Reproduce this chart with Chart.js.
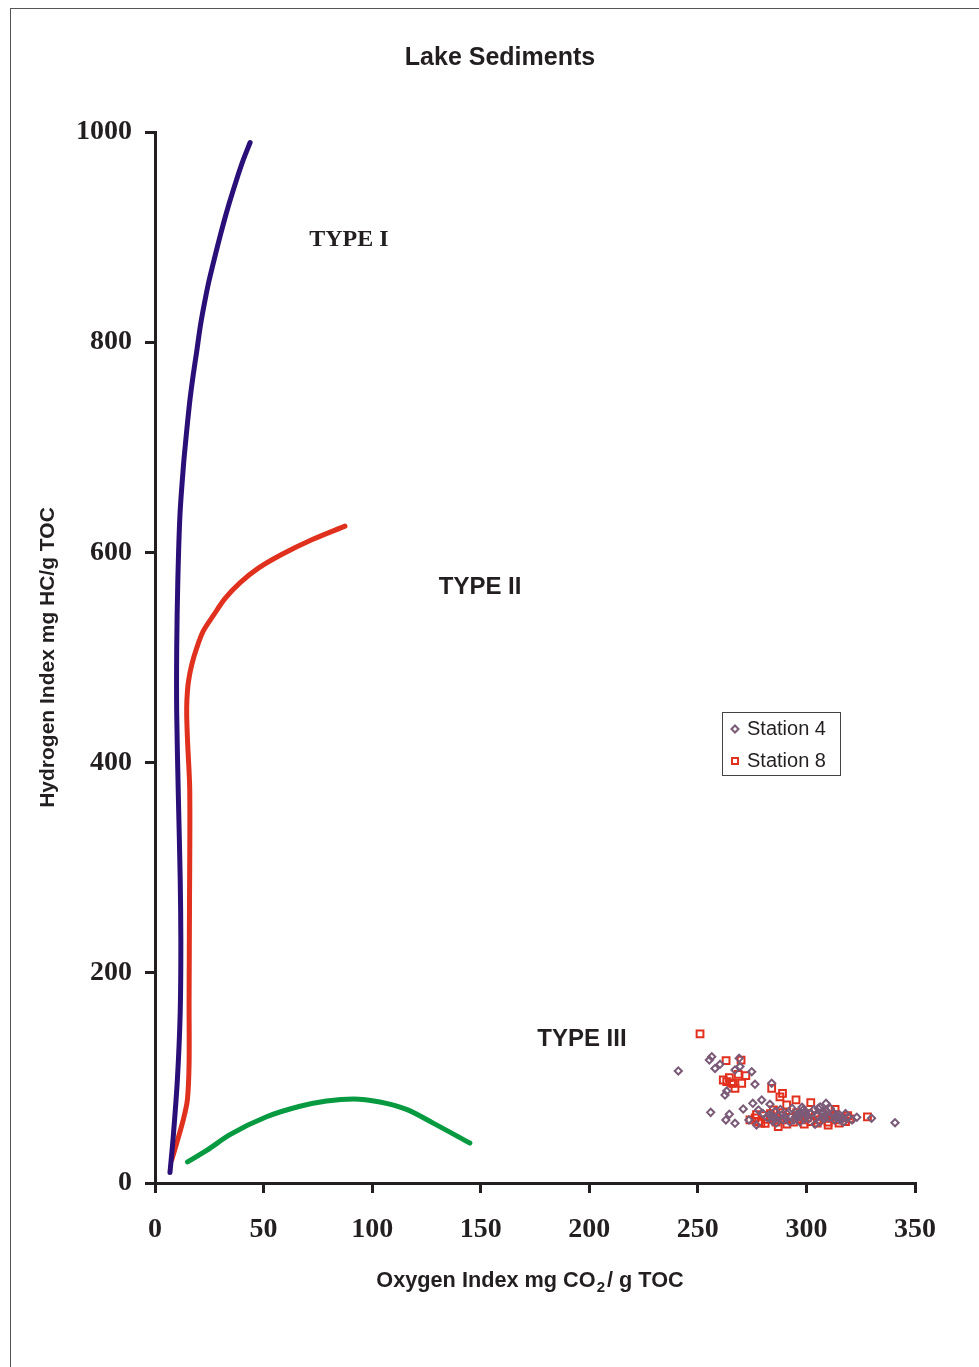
<!DOCTYPE html>
<html>
<head>
<meta charset="utf-8">
<script src="https://cdn.jsdelivr.net/npm/chart.js@4.4.1/dist/chart.umd.min.js"></script>
<style>
  html, body { margin: 0; padding: 0; background: #fff; }
  #wrap { position: relative; width: 979px; height: 1367px; }
  #frame { position: absolute; left: 10px; top: 8px; right: -5px; bottom: -5px; border-top: 1px solid #555; border-left: 1px solid #555; pointer-events: none; }
</style>
</head>
<body>
<div id="wrap">
  <canvas id="myChart" width="979" height="1367"></canvas>
  <div id="frame"></div>
</div>
<script>
const TITLE = "Lake Sediments";
const Y_TITLE = "Hydrogen Index mg HC/g TOC";
const X_TITLE = ["Oxygen Index mg CO", "2", "/ g TOC"];

const X_TICKS = [0, 50, 100, 150, 200, 250, 300, 350];
const Y_TICKS = [0, 200, 400, 600, 800, 1000];

// evolution curves (OI, HI)
const typeIx = [6.9, 8.4, 10.3, 11.6, 11.9, 11.6, 10.8, 10.0, 10.0, 10.5, 11.5, 13.2, 14.1, 15.0, 16.2, 17.6, 19.2, 20.7,
  22.3, 24.4, 26.7, 29.0, 31.4, 34.0, 37.3, 40.4, 43.8];
const typeIy = [10, 44, 98, 162, 230, 290, 364, 447, 509, 572, 636, 685, 705, 724, 747, 769, 791, 813,
  832, 854, 874, 893, 912, 931, 953, 972, 990];

const typeIIx = [7.7, 10.0, 13.0, 14.9, 15.7, 15.7, 15.9, 16.0, 15.0, 14.6, 14.7, 15.4, 16.9, 19.2, 22.2, 26.9, 32.2, 39.1,
  47.6, 58.3, 72.2, 87.5];
const typeIIy = [22, 38, 60, 79, 114, 174, 269, 374, 420, 445, 460, 477, 493, 509, 525, 540, 556, 571,
  585, 598, 612, 625];

const typeIIIx = [15.0, 23.8, 34.5, 51.4, 66.8, 79.0, 91.3, 103.6, 115.8, 128.1, 145.0];
const typeIIIy = [20, 31, 46, 63, 73, 78, 80, 77, 70, 57, 38];

// samples
const station4x = [241, 256.4, 255.3, 257.9, 260.2, 269, 267.1, 269.4, 274.8, 276.3, 284, 263.3, 262.5, 255.9, 264.5, 262.9,
  267.1, 270.9, 275.3, 279.4, 283.2, 277.9, 273.5, 340.8, 323.2, 330, 312.4, 309, 277,
  280, 282, 285.5, 287, 289.3, 291, 293.4, 295, 297, 299.2, 301, 303.5, 305, 306.2, 308, 310.4, 311, 313, 315.2, 317, 319.3, 321,
  286, 292.4, 298, 304, 300.5, 296, 288, 284.3, 302, 307.4, 309, 314, 316.3, 318, 283, 290, 294.2, 299,
  284.6, 285.8, 283.9, 295.7, 296.8, 298.4, 299.5, 306.3, 305.5, 307.6, 308.5, 314, 313.2, 315.5, 316.4];
const station4y = [106.6, 120.2, 117, 109, 112.9, 118.6, 107.5, 110.8, 105.9, 93.9, 94.9, 87.5, 83.7, 67.2, 65.4, 60,
  56.8, 70.4, 75.8, 79, 74.9, 69.5, 60, 57.4, 62.5, 61.6, 66.9, 75.8, 55.2,
  66, 62, 68, 64, 60, 66, 71, 63, 58, 67, 61, 70, 64, 58, 67, 62, 71, 60, 65, 58, 63, 60,
  57, 58, 72, 56, 64, 66, 70, 59, 66, 62, 69, 63, 61, 66, 65, 63, 60, 61,
  62.8, 61.5, 64, 64.7, 63.5, 69.5, 68.2, 72.3, 71, 62.8, 61.6, 64.7, 63.4, 60, 61.2];

const station8x = [251, 263, 269.9, 261.7, 264.5, 268.6, 272.1, 266.3, 270.2, 267.1, 263.3, 265.5, 284, 289, 287.8, 295.2, 302,
  290.9, 284.8, 328.1, 287, 281, 310, 313.2,
  274, 276.4, 278, 280.3, 282, 284.5, 286, 288.2, 290, 292.6, 294, 296.3, 298, 300.4, 302, 304.2, 306, 308.5, 310, 312.3, 314, 316.5,
  318, 320, 277, 283.4, 289, 295.5, 301, 307.2, 313, 319, 279, 291, 299, 305, 315];
const station8y = [141.8, 116.4, 117, 98, 100.2, 103.4, 102.1, 94.9, 94.9, 90.1, 96.4, 95, 90.1, 85.3, 82, 79, 76.4,
  74.2, 69.5, 63, 53.6, 56.8, 55, 70,
  60, 62, 58.5, 64, 60.5, 62, 58, 64, 60, 62.5, 58, 64, 60, 62, 58.5, 64, 60, 62, 58, 64, 60, 62,
  58.5, 61, 65, 66, 67, 67, 66, 66, 65, 64, 57, 56, 56, 57, 57];

const TYPE_LABELS = [
  { text: "TYPE I", x: 89.3, y: 897, serif: true },
  { text: "TYPE II", x: 149.7, y: 567, serif: false },
  { text: "TYPE III", x: 196.6, y: 137, serif: false }
];

const LEGEND = [
  { text: "Station 4", style: "rectRot", color: "#7b5a78" },
  { text: "Station 8", style: "rect", color: "#e2301f" }
];

const INK = "#231f20";
const SANS = '"Liberation Sans", Arial, sans-serif';
const SERIF = '"Liberation Serif", "Times New Roman", serif';

const zip = (xs, ys) => xs.map((v, i) => ({ x: v, y: ys[i] }));

const overlay = {
  id: "overlay",
  afterDraw(chart) {
    const { ctx, chartArea: a, scales } = chart;
    ctx.save();
    ctx.fillStyle = INK;
    ctx.textAlign = "center";
    ctx.textBaseline = "middle";

    ctx.font = "bold 25px " + SANS;
    ctx.fillText(TITLE, 500, 58);

    ctx.save();
    ctx.translate(48, (a.top + a.bottom) / 2);
    ctx.rotate(-Math.PI / 2);
    ctx.font = "bold 21px " + SANS;
    ctx.fillText(Y_TITLE, 0, 0);
    ctx.restore();

    // x title with subscript
    ctx.textAlign = "left";
    const big = "bold 21.7px " + SANS, small = "bold 15px " + SANS;
    ctx.font = big;
    const w1 = ctx.measureText(X_TITLE[0]).width, w3 = ctx.measureText(X_TITLE[2]).width;
    ctx.font = small;
    const w2 = ctx.measureText(X_TITLE[1]).width + 3;
    let tx = 530 - (w1 + w2 + w3) / 2;
    const ty = 1281;
    ctx.font = big; ctx.fillText(X_TITLE[0], tx, ty);
    ctx.font = small; ctx.fillText(X_TITLE[1], tx + w1 + 1, ty + 7);
    ctx.font = big; ctx.fillText(X_TITLE[2], tx + w1 + w2, ty);

    ctx.textAlign = "center";
    TYPE_LABELS.forEach(l => {
      ctx.font = "bold 24px " + (l.serif ? SERIF : SANS);
      ctx.fillText(l.text, scales.x.getPixelForValue(l.x), scales.y.getPixelForValue(l.y));
    });

    // legend box
    ctx.strokeStyle = "#444";
    ctx.lineWidth = 1;
    ctx.strokeRect(722.5, 712.5, 118, 63);
    ctx.textAlign = "left";
    ctx.font = "20px " + SANS;
    LEGEND.forEach((l, i) => {
      const ly = 729 + i * 32;
      ctx.fillStyle = "rgba(0,0,0,0)";
      ctx.strokeStyle = l.color;
      ctx.lineWidth = 2;
      Chart.helpers.drawPoint(ctx, { pointStyle: l.style, radius: l.style === "rect" ? 4.2 : 3.5, rotation: 0, borderWidth: 2 }, 735, ly);
      ctx.fillStyle = INK;
      ctx.fillText(l.text, 747, ly);
    });
    ctx.restore();
  }
};

const lineSet = (label, xs, ys, color, extra) => Object.assign({
  label, data: zip(xs, ys), showLine: true, borderColor: color, borderWidth: 5,
  pointRadius: 0, tension: 0.3, borderCapStyle: "round", borderJoinStyle: "round", fill: false
}, extra);

const axis = (min, max, ticks) => ({
  type: "linear", min, max,
  afterBuildTicks: s => { s.ticks = ticks.map(v => ({ value: v })); },
  ticks: { color: INK, font: { family: SERIF, size: 28, weight: "bold" }, callback: v => String(v) },
  grid: { drawOnChartArea: false, drawTicks: true, tickLength: 10, lineWidth: 3, color: INK },
  border: { display: true, width: 3, color: INK }
});

const xAxis = axis(0, 350, X_TICKS);
xAxis.ticks.padding = 20;
xAxis.afterFit = s => { s.height = 1367 - 1183; };
const yAxis = axis(0, 1000, Y_TICKS);
yAxis.ticks.padding = 13;
yAxis.afterFit = s => { s.width = 155; };

const CHART = document.getElementById("myChart");
new Chart(CHART, {
  type: "scatter",
  data: {
    datasets: [
      { label: "Station 4", data: zip(station4x, station4y), pointStyle: "rectRot", pointRadius: 3.6,
        borderColor: "#7b5a78", backgroundColor: "rgba(0,0,0,0)", borderWidth: 2, showLine: false },
      { label: "Station 8", data: zip(station8x, station8y), pointStyle: "rect", pointRadius: 4.8,
        borderColor: "#e2301f", backgroundColor: "rgba(0,0,0,0)", borderWidth: 2, showLine: false },
      lineSet("Type I", typeIx, typeIy, "#2a0f78"),
      lineSet("Type II", typeIIx, typeIIy, "#e0301e"),
      lineSet("Type III", typeIIIx, typeIIIy, "#079a40", { tension: 0, cubicInterpolationMode: "monotone" })
    ]
  },
  options: {
    responsive: false,
    animation: false,
    layout: { padding: { top: 132, right: 64, left: 0, bottom: 0 } },
    plugins: { legend: { display: false }, tooltip: { enabled: false }, title: { display: false } },
    scales: { x: xAxis, y: yAxis }
  },
  plugins: [overlay]
});
</script>
</body>
</html>
